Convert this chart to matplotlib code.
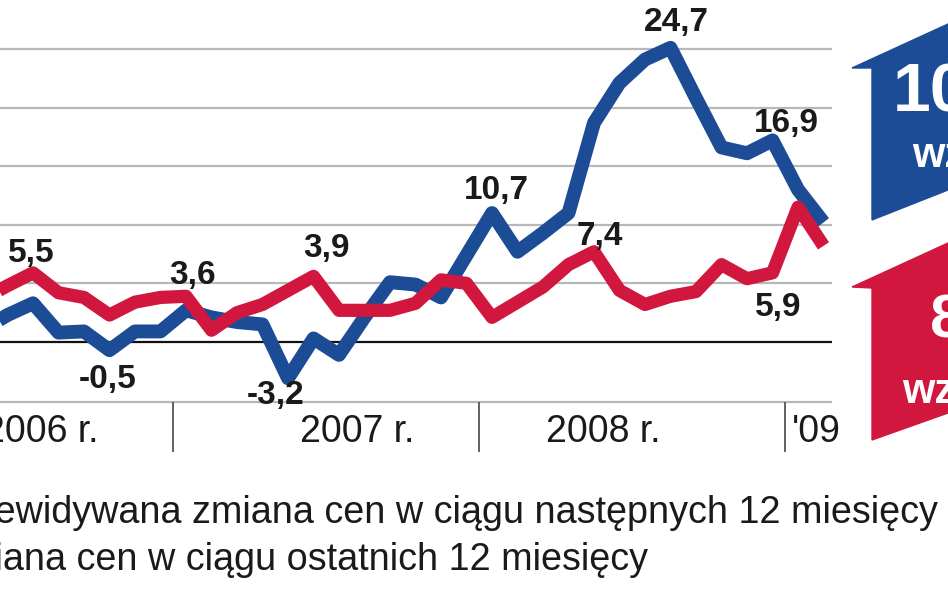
import matplotlib
matplotlib.use("Agg")
from matplotlib import pyplot as plt
from matplotlib.patches import Polygon

# month index: 0 = Jan 2006, data visible from May 2006 to Feb 2009
months = list(range(4, 38))

# expected price change over next 12 months (blue)
expected = [1.0, 2.3, 3.3, 0.8, 0.9, -0.7, 0.9, 0.9, 2.7, 2.1, 1.7, 1.5,
            -3.1, 0.3, -1.1, 2.1, 5.1, 4.9, 3.8, 7.4, 11.0, 7.7, 9.3, 11.0,
            18.7, 22.1, 24.1, 25.1, 20.8, 16.6, 16.1, 17.2, 13.0, 10.2]

# price change over last 12 months (red)
observed = [3.6, 4.8, 5.9, 4.2, 3.8, 2.3, 3.4, 3.8, 3.9, 1.0, 2.5, 3.2,
            4.4, 5.6, 2.7, 2.7, 2.7, 3.3, 5.3, 5.0, 2.1, 3.4, 4.7, 6.6,
            7.7, 4.4, 3.2, 3.9, 4.3, 6.6, 5.4, 5.9, 11.5, 8.2]

point_labels = ["5,5", "-0,5", "3,6", "3,9", "-3,2", "10,7", "7,4", "24,7", "16,9", "5,9"]
label_x = [5.92, 8.94, 12.24, 17.49, 15.53, 24.16, 28.24, 31.22, 35.53, 35.22]
label_y = [6.83, -3.92, 4.95, 7.25, -5.29, 12.20, 8.28, 26.54, 17.92, 2.22]

year_labels = ["2006 r.", "2007 r.", "2008 r.", "'09"]
year_x = [6.31, 18.71, 28.35, 36.71]
year_breaks = [11.5, 23.5, 35.5]
grid_values = [5, 10, 15, 20, 25]

BLUE = "#1d4c97"
RED = "#d1173e"
FONT = ["Liberation Sans", "DejaVu Sans"]

W, H = 948, 593


def px(x, y):
    # pixel position -> figure fraction
    return x / W, 1 - y / H


fig = plt.figure(figsize=(W / 100, H / 100), dpi=100)
ax = fig.add_axes([0, 0, 1, 1])
ax.axis("off")
ax.set_xlim(4.706, 41.882)
ax.set_ylim(-21.42, 29.18)

grid_end = 37.33
ax.hlines(grid_values, 4.706, grid_end, color="#b8b8b8", lw=1.6, zorder=1)
ax.hlines(0, 4.706, grid_end, color="#111111", lw=1.6, zorder=1)
ax.hlines(-5.12, 4.706, grid_end, color="#b8b8b8", lw=1.6, zorder=1)
ax.vlines(year_breaks, -9.39, -5.12, color="#555555", lw=1.3, zorder=1)

ax.plot(months, expected, color=BLUE, lw=10, solid_joinstyle="round",
        solid_capstyle="butt", zorder=3)
ax.plot(months, observed, color=RED, lw=9.5, solid_joinstyle="round",
        solid_capstyle="butt", zorder=4)

for txt, x, y in zip(point_labels, label_x, label_y):
    ax.text(x, y, txt, ha="center", va="baseline", fontsize=24,
            fontweight="bold", family=FONT, color="#1a1a1a", zorder=5)

for txt, x in zip(year_labels, year_x):
    ax.text(x, -8.53, txt, ha="center", va="baseline", fontsize=27,
            family=FONT, color="#1a1a1a")

# legend lines (left part cut off by the frame, as in the source)
fig.text(*px(938, 523), "Przewidywana zmiana cen w ciągu następnych 12 miesięcy",
         ha="right", va="baseline", fontsize=27.2, family=FONT, color="#1a1a1a")
fig.text(*px(648, 570), "Zmiana cen w ciągu ostatnich 12 miesięcy",
         ha="right", va="baseline", fontsize=27.2, family=FONT, color="#1a1a1a")

# arrow-shaped boxes on the right edge
blue_box = [px(852, 68), px(872, 68), px(872, 220), px(948, 190), px(948, 24)]
red_box = [px(852, 287), px(872, 288), px(872, 440), px(948, 413), px(948, 243)]
fig.patches.append(Polygon(blue_box, closed=True, color=BLUE, transform=fig.transFigure))
fig.patches.append(Polygon(red_box, closed=True, color=RED, transform=fig.transFigure))

fig.text(*px(893, 112), "10", ha="left", va="baseline", fontsize=49,
         fontweight="bold", family=FONT, color="white")
fig.text(*px(912, 167), "wz", ha="left", va="baseline", fontsize=30,
         fontweight="bold", family=FONT, color="white")
fig.text(*px(930, 337), "8", ha="left", va="baseline", fontsize=44,
         fontweight="bold", family=FONT, color="white")
fig.text(*px(902, 403), "wz", ha="left", va="baseline", fontsize=30,
         fontweight="bold", family=FONT, color="white")

fig.savefig("out.png", dpi=100, facecolor="white")
